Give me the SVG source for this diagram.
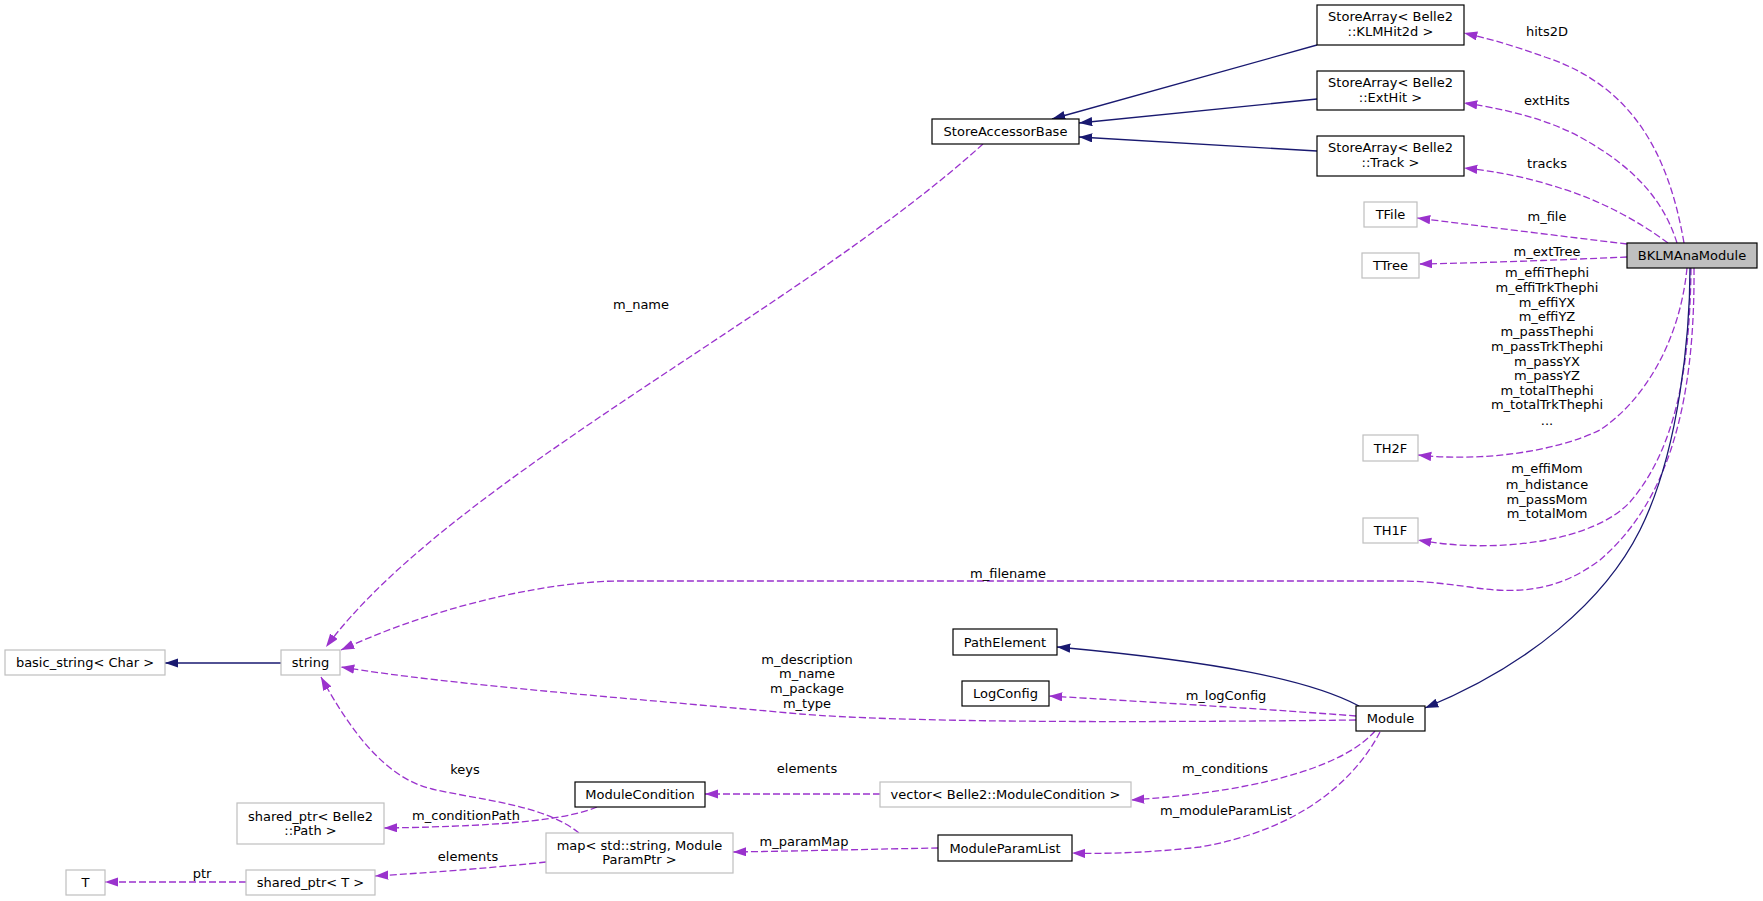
<svg xmlns="http://www.w3.org/2000/svg" width="1763" height="901" viewBox="0 0 1763 901">
<style>
  text { font-family: "DejaVu Sans", "Liberation Sans", sans-serif; font-size: 13px; fill: #000; text-anchor: middle; }
  .doc { fill: #fff; stroke: #000; stroke-width: 1.2; }
  .undoc { fill: #fff; stroke: #bfbfbf; stroke-width: 1.2; }
  .cur { fill: #bfbfbf; stroke: #000; stroke-width: 1.2; }
  .inh { fill: none; stroke: #191970; stroke-width: 1.3; marker-end: url(#ab); }
  .mem { fill: none; stroke: #9a32cd; stroke-width: 1.3; stroke-dasharray: 7,3; marker-end: url(#ap); }
</style>
<defs>
  <marker id="ab" markerWidth="15" markerHeight="11" refX="13.3" refY="4.67" orient="auto" markerUnits="userSpaceOnUse">
    <path d="M0,0 L13.3,4.67 L0,9.33 z" fill="#191970"/>
  </marker>
  <marker id="ap" markerWidth="15" markerHeight="11" refX="13.3" refY="4.67" orient="auto" markerUnits="userSpaceOnUse">
    <path d="M0,0 L13.3,4.67 L0,9.33 z" fill="#9a32cd"/>
  </marker>
</defs>
<rect width="1763" height="901" fill="#fff"/>

<g id="connectors">
  <path class="inh" d="M1317,45 L1052,119"/>
  <path class="inh" d="M1317,99 L1079,123"/>
  <path class="inh" d="M1317,151 L1079,137"/>
  <path class="mem" d="M1684,243 C1668,150 1630,85 1545,57 C1520,48 1495,40 1464,33"/>
  <path class="mem" d="M1677,243 C1665,205 1640,170 1580,137 C1545,118 1500,108 1464,103"/>
  <path class="mem" d="M1668,243 C1640,222 1600,200 1560,188 C1530,178 1495,171 1464,168"/>
  <path class="mem" d="M1627,244 C1560,236 1480,226 1417,218"/>
  <path class="mem" d="M1627,257 C1560,260 1480,263 1419,264"/>
  <path class="mem" d="M1687,268 C1680,340 1645,400 1600,430 C1555,452 1480,462 1418,455"/>
  <path class="mem" d="M1691,268 C1690,370 1675,450 1630,502 C1595,540 1500,555 1418,540"/>
  <path class="mem" d="M1694,268 C1695,400 1670,500 1600,560 C1560,590 1520,595 1470,587 C1440,583 1420,581 1400,581 L620,581 C560,581 450,600 341,650"/>
  <path class="inh" d="M1690,268 C1690,330 1680,450 1640,530 C1605,600 1530,665 1425,708"/>
  <path class="mem" d="M983,144 C800,310 450,480 326,647"/>
  <path class="inh" d="M281,663 L165,663"/>
  <path class="inh" d="M1359,706 C1310,680 1220,662 1057,647"/>
  <path class="mem" d="M1356,716 C1280,710 1150,702 1049,696"/>
  <path class="mem" d="M1356,720 C1100,723 900,722 800,714 C650,700 450,685 341,667"/>
  <path class="mem" d="M1375,731 C1350,760 1280,790 1131,800"/>
  <path class="mem" d="M1380,732 C1355,780 1300,830 1200,847 C1150,853 1100,854 1072,853"/>
  <path class="mem" d="M880,794 L705,794"/>
  <path class="mem" d="M597,807 C570,818 520,826 384,828"/>
  <path class="mem" d="M579,833 C545,805 480,800 432,789 C385,778 350,730 321,677"/>
  <path class="mem" d="M938,848 C880,849 800,851 733,852"/>
  <path class="mem" d="M546,862 C500,867 440,872 375,876"/>
  <path class="mem" d="M246,882 L105,882"/>
</g>

<g id="labels">
  <text x="1547" y="35.5">hits2D</text>
  <text x="1547" y="104.5">extHits</text>
  <text x="1547" y="167.5">tracks</text>
  <text x="1547" y="220.5">m_file</text>
  <text x="1547" y="255.5">m_extTree</text>
  <text x="1547" y="276.8">m_effiThephi</text>
  <text x="1547" y="291.8">m_effiTrkThephi</text>
  <text x="1547" y="306.8">m_effiYX</text>
  <text x="1547" y="321.2">m_effiYZ</text>
  <text x="1547" y="336.2">m_passThephi</text>
  <text x="1547" y="351.2">m_passTrkThephi</text>
  <text x="1547" y="365.5">m_passYX</text>
  <text x="1547" y="380.2">m_passYZ</text>
  <text x="1547" y="395.2">m_totalThephi</text>
  <text x="1547" y="409.2">m_totalTrkThephi</text>
  <text x="1547" y="424.5">...</text>
  <text x="1547" y="472.8">m_effiMom</text>
  <text x="1547" y="488.5">m_hdistance</text>
  <text x="1547" y="503.5">m_passMom</text>
  <text x="1547" y="517.5">m_totalMom</text>
  <text x="641" y="308.5">m_name</text>
  <text x="1008" y="577.5">m_filename</text>
  <text x="807" y="663.5">m_description</text>
  <text x="807" y="677.5">m_name</text>
  <text x="807" y="692.5">m_package</text>
  <text x="807" y="707.5">m_type</text>
  <text x="1226" y="699.5">m_logConfig</text>
  <text x="1225" y="772.5">m_conditions</text>
  <text x="1226" y="814.5">m_moduleParamList</text>
  <text x="807" y="772.5">elements</text>
  <text x="465" y="773.5">keys</text>
  <text x="466" y="819.5">m_conditionPath</text>
  <text x="804" y="845.5">m_paramMap</text>
  <text x="468" y="860.5">elements</text>
  <text x="202" y="878">ptr</text>
</g>

<g id="BKLMAnaModule"><rect class="cur" x="1627" y="243" width="130" height="25"/><text x="1692" y="260">BKLMAnaModule</text></g>
<g id="StoreArrayKLMHit2d"><rect class="doc" x="1317" y="5" width="147" height="40"/><text x="1390.5" y="21.2">StoreArray&lt; Belle2</text><text x="1390.5" y="35.7">::KLMHit2d &gt;</text></g>
<g id="StoreArrayExtHit"><rect class="doc" x="1317" y="71" width="147" height="39"/><text x="1390.5" y="87">StoreArray&lt; Belle2</text><text x="1390.5" y="101.5">::ExtHit &gt;</text></g>
<g id="StoreArrayTrack"><rect class="doc" x="1317" y="136" width="147" height="40"/><text x="1390.5" y="152">StoreArray&lt; Belle2</text><text x="1390.5" y="166.5">::Track &gt;</text></g>
<g id="StoreAccessorBase"><rect class="doc" x="932" y="119" width="147" height="25"/><text x="1005.5" y="136">StoreAccessorBase</text></g>
<g id="TFile"><rect class="undoc" x="1364" y="202" width="53" height="25"/><text x="1390.5" y="219">TFile</text></g>
<g id="TTree"><rect class="undoc" x="1362" y="253" width="57" height="25"/><text x="1390.5" y="270">TTree</text></g>
<g id="TH2F"><rect class="undoc" x="1363" y="435" width="55" height="26"/><text x="1390.5" y="452.5">TH2F</text></g>
<g id="TH1F"><rect class="undoc" x="1363" y="518" width="55" height="25"/><text x="1390.5" y="535">TH1F</text></g>
<g id="string"><rect class="undoc" x="281" y="650" width="59" height="25"/><text x="310.5" y="667">string</text></g>
<g id="basic_string"><rect class="undoc" x="5" y="650" width="160" height="25"/><text x="85" y="667">basic_string&lt; Char &gt;</text></g>
<g id="PathElement"><rect class="doc" x="953" y="629" width="104" height="26"/><text x="1005" y="646.5">PathElement</text></g>
<g id="LogConfig"><rect class="doc" x="962" y="681" width="87" height="25"/><text x="1005.5" y="698">LogConfig</text></g>
<g id="Module"><rect class="doc" x="1356" y="706" width="69" height="25"/><text x="1390.5" y="723">Module</text></g>
<g id="ModuleCondition"><rect class="doc" x="575" y="782" width="130" height="25"/><text x="640" y="799">ModuleCondition</text></g>
<g id="vectorModuleCondition"><rect class="undoc" x="880" y="782" width="251" height="25"/><text x="1005.5" y="799">vector&lt; Belle2::ModuleCondition &gt;</text></g>
<g id="ModuleParamList"><rect class="doc" x="938" y="835" width="134" height="26"/><text x="1005" y="852.5">ModuleParamList</text></g>
<g id="shared_ptrPath"><rect class="undoc" x="237" y="803" width="147" height="41"/><text x="310.5" y="820.5">shared_ptr&lt; Belle2</text><text x="310.5" y="835">::Path &gt;</text></g>
<g id="mapModuleParamPtr"><rect class="undoc" x="546" y="833" width="187" height="40"/><text x="639.5" y="849.5">map&lt; std::string, Module</text><text x="639.5" y="864">ParamPtr &gt;</text></g>
<g id="shared_ptrT"><rect class="undoc" x="246" y="870" width="129" height="25"/><text x="310.5" y="887">shared_ptr&lt; T &gt;</text></g>
<g id="T"><rect class="undoc" x="66" y="870" width="39" height="25"/><text x="85.5" y="887">T</text></g>
</svg>
